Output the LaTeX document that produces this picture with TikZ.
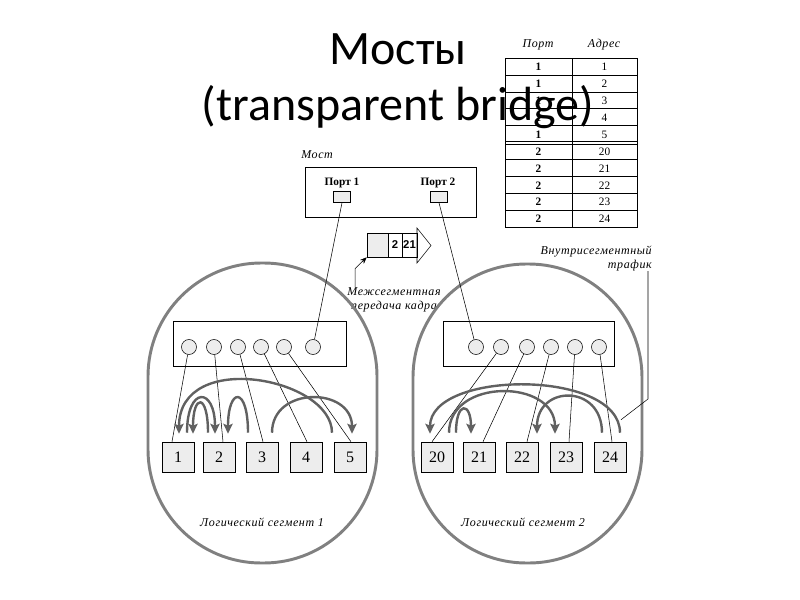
\documentclass[tikz,border=0pt]{standalone}
\usepackage{fontspec}
\setmainfont{Liberation Serif}
\newfontfamily\titlefont{Carlito}
\newfontfamily\sparsefont[LetterSpace=5]{Liberation Serif}
\newfontfamily\pktfont{Liberation Sans}
\usetikzlibrary{arrows.meta,calc}

\begin{document}
\begin{tikzpicture}[x=0.75pt,y=-0.75pt,
    seg/.style={draw=black!50, line width=2.2pt, rounded corners=85pt},
    flow/.style={draw=black!62, line width=1.8pt, -{Stealth[length=7.5pt,width=7pt,inset=1.5pt]}},
    hub/.style={draw, fill=white, minimum height=33.75pt, inner sep=0pt},
    jack/.style={circle, draw, fill=black!7, inner sep=0pt, minimum size=11.25pt},
    host/.style={draw, fill=black!7, minimum width=24pt, minimum height=22.5pt, inner sep=0pt, font=\fontsize{12}{14}\selectfont},
    port/.style={draw, fill=black!7, minimum width=12.75pt, minimum height=8.25pt, inner sep=0pt},
    cell/.style={draw, minimum height=18pt, inner sep=0pt, font=\pktfont\bfseries\fontsize{8.5}{10}\selectfont},
    note/.style={font=\sparsefont\itshape\fontsize{9}{10.5}\selectfont, inner sep=0pt},
    tab/.style={font=\fontsize{8.5}{10}\selectfont, inner sep=0pt}
]
    \useasboundingbox (0,0) rectangle (800,600);

    % address table
    \node[note] (tp) at (538,45) {Порт};
    \node[note] (ta) at (604,45) {Адрес};
    \draw (505,58) rectangle (637,227);
    \draw (572,58) -- (572,227);
    \foreach \k in {1,2,3,4,6,7,8,9} \draw (505,58+\k*16.9) -- (637,58+\k*16.9);
    \draw (505,140.8) -- (637,140.8);
    \draw (505,143.8) -- (637,143.8);
    \foreach \a [count=\i from 0] in {1,2,3,4,5,20,21,22,23,24} {
        \pgfmathtruncatemacro{\p}{\i<5 ? 1 : 2}
        \node[tab, font=\bfseries\fontsize{8.5}{10}\selectfont] (tl\i) at (538.5,67+\i*16.9) {\p};
        \node[tab] (tr\i) at (604.5,67+\i*16.9) {\a};
    }

    % title
    \node[font=\titlefont\fontsize{36}{44}\selectfont, anchor=base, inner sep=0pt] (ttl1) at (398,64) {Мосты};
    \node[font=\titlefont\fontsize{36}{44}\selectfont, anchor=base, inner sep=0pt] (ttl2) at (398,120) {(transparent bridge)};

    % bridge
    \node[note, anchor=west] (mst) at (301,155) {Мост};
    \node[draw, minimum width=128.25pt, minimum height=37.5pt] (br) at (390.5,192) {};
    \node[font=\bfseries\fontsize{8.5}{10}\selectfont, inner sep=0pt] (pl1) at (342,183) {Порт 1};
    \node[font=\bfseries\fontsize{8.5}{10}\selectfont, inner sep=0pt] (pl2) at (438,183) {Порт 2};
    \node[port] (p1) at (342,197) {};
    \node[port] (p2) at (439,197) {};

    % frame in transit
    \node[cell, fill=black!7, minimum width=15.75pt] (fr) at (377.5,245) {};
    \node[cell, minimum width=10.5pt] (f2) at (395,245) {2};
    \node[cell, minimum width=11.25pt] (f21) at (409.5,245) {21};
    \draw (417,228) -- (431,245.5) -- (417,263) -- cycle;
    \node[note, align=center] (inter) at (394,300) {Межсегментная\\передача кадра};
    \draw[-{Stealth[length=5pt,width=4pt]}] ([xshift=6pt]inter.north west) -- ++(0,-19) -- (fr.south west);

    % segments
    \draw[seg] (148,263) rectangle (377,563);
    \draw[seg] (413,264) rectangle (642,563);
    \node[note] (lg1) at (262,522) {Логический сегмент 1};
    \node[note] (lg2) at (523,522) {Логический сегмент 2};

    % hubs
    \node[hub, minimum width=129.75pt] (hb1) at (259.5,343.5) {};
    \node[hub, minimum width=128.25pt] (hb2) at (528.5,343.5) {};
    \foreach \x [count=\i] in {189,214,238,261,284,313} \node[jack] (ca\i) at (\x,347) {};
    \foreach \x [count=\i] in {476,501,527,551,575,599} \node[jack] (cb\i) at (\x,347) {};

    % stations
    \foreach \n/\x in {1/178,2/219,3/262,4/306,5/350,20/437,21/479,22/522,23/566,24/610}
        \node[host] (s\n) at (\x,457) {\n};

    % cabling
    \draw (p1.south) -- (ca6);
    \draw (p2.south) -- (cb1);
    \foreach \i/\n/\d in {1/1/-6,2/2/4,3/3/1,4/4/1,5/5/1}
        \draw (ca\i) -- ([xshift=\d*0.75pt]s\n.north);
    \foreach \i/\n/\d in {2/20/-5,3/21/4,4/22/5,5/23/3,6/24/2}
        \draw (cb\i) -- ([xshift=\d*0.75pt]s\n.north);

    % intrasegment traffic, segment 1
    \draw[flow] ($(s5.north)+(-18,-9)$) .. controls +(0,-55) and +(0,-85) .. ($(s1.north)+(1,-8)$);
    \draw[flow] ($(s3.north)+(10,-9)$) .. controls +(0,-47) and +(0,-47) .. ($(s5.north)+(2,-8)$);
    \draw[flow] ($(s1.north)+(9,-9)$) .. controls +(0,-47) and +(0,-47) .. ($(s2.north)+(-4,-8)$);
    \draw[flow] ($(s2.north)+(-11,-9)$) .. controls +(0,-40) and +(0,-40) .. ($(s1.north)+(15,-8)$);
    \draw[flow] ($(s3.north)+(-14,-9)$) .. controls +(0,-47) and +(0,-47) .. ($(s2.north)+(9,-8)$);

    % intrasegment traffic, segment 2
    \draw[flow] ($(s24.north)+(10,-9)$) .. controls +(0,-64) and +(0,-64) .. ($(s20.north)+(-7,-8)$);
    \draw[flow] ($(s20.north)+(12,-9)$) .. controls +(0,-55) and +(0,-55) .. ($(s23.north)+(-11,-8)$);
    \draw[flow] ($(s20.north)+(19,-9)$) .. controls +(0,-32) and +(0,-32) .. ($(s21.north)+(-8,-8)$);
    \draw[flow] ($(s24.north)+(-8,-9)$) .. controls +(0,-49) and +(0,-49) .. ($(s22.north)+(15,-8)$);

    \coordinate (trf) at ($(s24.north)+(11,-22)$);
    \node[note, align=right, anchor=south east] (intra) at (652,271) {Внутрисегментный\\трафик};
    \draw ([xshift=-3pt]intra.south east) -- ++(0,128) -- (trf);
\end{tikzpicture}
\end{document}
